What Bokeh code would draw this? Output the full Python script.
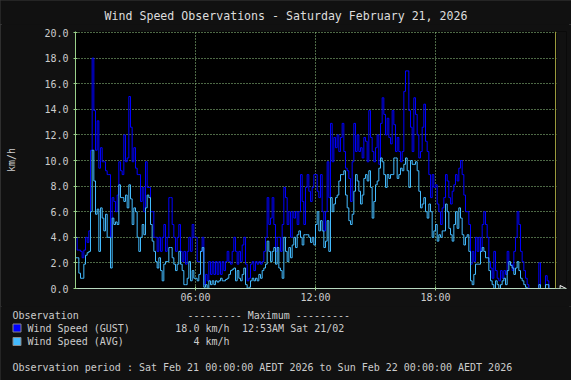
from bokeh.plotting import figure
from bokeh.layouts import column
from bokeh.models import (Range1d, FixedTicker, PrintfTickFormatter, BoxAnnotation,
                          Span, Arrow, NormalHead, GlobalInlineStyleSheet)
from bokeh.core.properties import value
from bokeh.embed import file_html
from bokeh.resources import INLINE

# ---------------- data (km/h, 5-minute samples from 00:00) ----------------
gust_kmh = [
    4.0, 3.0, 3.0, 2.9, 2.4, 3.0, 4.0, 3.6, 4.5, 10.8, 18.0, 13.9,
    10.8, 13.1, 9.4, 11.0, 9.9, 9.9, 9.2, 8.9, 8.9, 4.0, 7.1, 6.8,
    6.0, 7.3, 9.9, 9.2, 8.9, 12.0, 9.9, 10.2, 15.0, 12.6, 9.9, 11.0,
    9.4, 8.9, 8.9, 6.8, 7.9, 6.0, 9.9, 7.9, 7.9, 6.0, 6.0, 4.0,
    4.0, 2.9, 4.0, 2.9, 4.0, 5.0, 2.9, 4.0, 7.1, 7.1, 5.0, 4.0,
    2.9, 4.0, 5.0, 2.9, 2.1, 2.9, 1.9, 2.9, 4.0, 2.9, 5.0, 4.0,
    4.0, 2.1, 2.1, 2.9, 4.0, 0.3, 1.1, 0.6, 2.1, 1.1, 2.1, 1.1,
    2.1, 1.1, 2.1, 1.1, 2.1, 1.4, 2.1, 2.9, 2.1, 1.9, 2.9, 4.0,
    2.9, 1.9, 2.9, 2.1, 3.4, 4.0, 1.9, 0.6, 0.8, 1.9, 2.1, 1.4,
    2.1, 1.9, 2.1, 1.9, 2.1, 2.9, 4.0, 7.1, 5.0, 5.5, 7.1, 5.0,
    2.9, 4.0, 4.0, 2.9, 5.0, 7.9, 7.1, 5.0, 6.0, 4.0, 6.0, 5.5,
    6.0, 5.0, 6.0, 8.9, 6.8, 5.0, 7.9, 8.9, 7.6, 6.8, 7.9, 8.9,
    8.9, 7.6, 7.1, 8.9, 6.0, 4.5, 6.0, 9.9, 7.1, 12.9, 9.9, 11.8,
    11.0, 12.0, 10.7, 11.8, 12.9, 10.7, 9.4, 9.2, 8.6, 6.8, 9.9, 12.9,
    10.7, 12.0, 10.7, 11.0, 10.2, 11.8, 11.5, 9.9, 13.9, 11.8, 10.7, 9.9,
    11.0, 12.0, 9.7, 12.9, 14.9, 13.6, 12.0, 13.3, 11.8, 11.3, 13.9, 12.8,
    10.7, 11.8, 10.7, 9.9, 10.7, 15.4, 17.0, 17.0, 13.9, 12.6, 10.7, 14.9,
    13.6, 12.0, 10.2, 10.7, 12.6, 14.4, 11.5, 10.7, 8.9, 7.1, 8.9, 7.9,
    8.1, 6.6, 6.0, 5.0, 6.3, 7.1, 8.9, 8.4, 7.1, 6.6, 7.6, 8.1,
    8.9, 8.4, 9.4, 10.0, 8.9, 7.3, 6.0, 6.0, 5.0, 1.9, 2.9, 2.1,
    4.0, 2.9, 4.0, 2.9, 5.0, 6.0, 5.0, 4.0, 2.1, 1.6, 0.8, 2.9,
    1.4, 0.8, 0.6, 1.4, 0.8, 1.4, 1.1, 2.9, 1.9, 1.9, 1.4, 2.9,
    4.0, 6.0, 5.0, 2.9, 2.1, 1.4, 0.8, 0.3, 0.0, 0.0, 0.0, 0.0,
    0.0, 0.0, 2.0, 0.0, 0.0, 0.0, 1.0, 0.6, 0.0, 0.0,
]
avg_kmh = [
    2.4, 2.4, 1.2, 0.8, 0.8, 1.9, 2.6, 2.8, 2.9, 6.0, 10.8, 8.4,
    5.8, 6.2, 2.9, 6.3, 5.5, 4.5, 5.8, 4.0, 4.0, 1.6, 5.5, 5.0,
    5.2, 5.0, 8.1, 7.1, 7.1, 6.8, 7.3, 6.3, 8.1, 7.0, 5.0, 6.3,
    6.0, 4.0, 2.9, 4.0, 5.0, 4.2, 6.3, 7.3, 7.1, 5.0, 3.7, 2.9,
    2.1, 1.6, 2.4, 1.4, 0.6, 1.9, 2.1, 2.1, 3.2, 3.2, 2.4, 1.9,
    1.4, 1.9, 2.9, 1.9, 1.4, 0.3, 0.3, 0.8, 2.1, 0.6, 1.4, 0.8,
    0.8, 0.6, 1.1, 2.9, 3.2, 0.1, 0.3, 0.0, 0.6, 0.3, 0.6, 0.3,
    0.6, 0.5, 0.6, 0.8, 0.6, 0.6, 0.7, 0.8, 1.1, 1.4, 1.5, 1.6,
    0.6, 1.4, 0.8, 0.6, 1.1, 1.6, 0.3, 0.0, 0.1, 0.6, 0.8, 0.6,
    0.8, 0.6, 1.1, 0.8, 1.4, 1.6, 1.9, 3.7, 2.9, 2.1, 2.9, 3.2,
    1.9, 3.2, 1.6, 1.4, 0.8, 4.0, 2.9, 2.1, 3.2, 2.4, 3.4, 4.0,
    3.2, 4.2, 4.5, 4.0, 3.4, 4.2, 4.2, 4.2, 4.0, 3.6, 4.0, 3.4,
    5.0, 6.0, 4.5, 5.3, 4.5, 3.2, 3.7, 5.3, 2.9, 7.1, 6.0, 6.6,
    7.1, 7.3, 8.4, 8.9, 8.9, 9.2, 7.3, 6.3, 5.3, 5.0, 5.8, 7.6,
    8.9, 8.4, 7.6, 6.6, 7.3, 8.6, 8.9, 8.4, 9.2, 7.9, 5.5, 6.8,
    8.1, 8.4, 9.4, 10.2, 9.9, 8.9, 7.9, 8.9, 8.6, 8.9, 8.9, 10.2,
    10.2, 8.6, 8.9, 9.4, 9.2, 9.7, 10.2, 9.2, 7.9, 10.0, 9.7, 9.7,
    9.9, 9.2, 7.6, 6.3, 6.6, 7.1, 6.0, 5.5, 6.6, 6.0, 4.0, 4.5,
    5.0, 3.7, 4.2, 4.0, 4.5, 4.5, 6.6, 6.0, 4.7, 4.2, 3.7, 5.0,
    6.0, 4.7, 6.3, 5.5, 4.2, 3.4, 4.0, 4.2, 2.9, 0.6, 0.3, 1.1,
    1.9, 1.9, 1.9, 2.9, 3.2, 2.9, 2.4, 2.4, 1.4, 0.6, 0.3, 0.0,
    0.6, 0.3, 0.0, 0.3, 0.6, 0.8, 0.3, 1.4, 2.1, 1.8, 1.6, 1.1,
    1.6, 2.1, 1.4, 0.8, 0.6, 0.3, 0.1, 0.0, 0.0, 0.0, 0.0, 0.0,
    0.0, 0.0, 0.3, 0.0, 0.0, 0.0, 0.3, 0.3, 0.0, 0.0,
]
sample_minutes = 5
y_ticks = [0, 2, 4, 6, 8, 10, 12, 14, 16, 18, 20]
x_tick_hours = [6, 12, 18]
x_tick_labels = ["06:00", "12:00", "18:00"]
day_hours = 24

title_text = "Wind Speed Observations - Saturday February 21, 2026"
y_label = "km/h"
legend_header = ["Observation", "--------- Maximum ---------"]
series_names = ["Wind Speed (GUST)", "Wind Speed (AVG)"]
series_max = ["18.0 km/h", "4 km/h"]
gust_max_time = "12:53AM Sat 21/02"
period_text = "Observation period : Sat Feb 21 00:00:00 AEDT 2026 to Sun Feb 22 00:00:00 AEDT 2026"

GUST_COLOR = "#0000FF"
AVG_COLOR = "#44BBFF"
TEXT_COLOR = "#CCCCCC"
GRID_COLOR = "#9AD08A"
BG = "#111111"
FONT = "DejaVu Sans Mono"

hours = [i * sample_minutes / 60 for i in range(len(gust_kmh))]

W = 571
HEAD_H, MAIN_H, LEG_H = 24, 282, 74


def panel(h):
    f = figure(width=W, height=h, output_backend="svg", toolbar_location=None,
               x_range=Range1d(0, W), y_range=Range1d(h, 0),
               x_axis_type=None, y_axis_type=None, min_border=0, frame_align=False)
    f.title = None
    f.background_fill_color = BG
    f.border_fill_color = BG
    f.outline_line_color = None
    f.xgrid.visible = False
    f.ygrid.visible = False
    return f


# ---------------- header (title) ----------------
head = panel(HEAD_H)
head.text(x=[285.5], y=[15], text=[title_text], text_font=value(FONT),
          text_font_size=value("11.6px"), text_color="#DDDDDD",
          text_align="center", text_baseline="middle")

# ---------------- main chart ----------------
FL, FT, FW, FH = 75, 7, 491, 257      # frame in main-figure pixels
PX_PER_H, PX_PER_U = 20.0, 12.8

p = figure(width=W, height=MAIN_H, output_backend="svg", toolbar_location=None,
           x_range=Range1d(0, FW / PX_PER_H), y_range=Range1d(0, FH / PX_PER_U),
           min_border_left=FL, min_border_right=W - FL - FW,
           min_border_top=FT, min_border_bottom=MAIN_H - FT - FH, frame_align=False)
p.title = None
p.background_fill_color = "#000000"
p.border_fill_color = BG
p.outline_line_color = None

p.yaxis.ticker = FixedTicker(ticks=y_ticks)
p.yaxis.formatter = PrintfTickFormatter(format="%.1f")
p.xaxis.ticker = FixedTicker(ticks=x_tick_hours)
p.xaxis.major_label_overrides = {h: l for h, l in zip(x_tick_hours, x_tick_labels)}
for ax in (p.xaxis, p.yaxis):
    ax.major_label_text_font = FONT
    ax.major_label_text_font_size = "10px"
    ax.major_label_text_color = TEXT_COLOR
    ax.major_tick_in = 2
    ax.major_tick_out = 2
    ax.major_tick_line_color = GRID_COLOR
    ax.minor_tick_line_color = None
p.yaxis.axis_line_color = GRID_COLOR
p.xaxis.axis_line_color = "#B8D8C0"
p.yaxis.major_label_standoff = 5
p.xaxis.major_label_standoff = 1
p.yaxis.axis_label = y_label
p.yaxis.axis_label_text_font = FONT
p.yaxis.axis_label_text_font_size = "10px"
p.yaxis.axis_label_text_font_style = "normal"
p.yaxis.axis_label_text_color = TEXT_COLOR
p.yaxis.axis_label_standoff = 24

p.ygrid.ticker = FixedTicker(ticks=y_ticks)
p.xgrid.ticker = FixedTicker(ticks=x_tick_hours)
for g in (p.xgrid, p.ygrid):
    g.grid_line_color = GRID_COLOR
    g.grid_line_dash = "1 2"
    g.grid_line_width = 1

p.step(hours, gust_kmh, mode="after", line_color=GUST_COLOR, line_width=1)
p.step(hours, avg_kmh, mode="after", line_color=AVG_COLOR, line_width=1)

# area right of the day end is canvas colour, closed by an olive rule
p.add_layout(BoxAnnotation(left=day_hours + 0.05, fill_color=BG, fill_alpha=1,
                           line_color=None))
p.add_layout(Span(location=day_hours, dimension="height", line_color="#9A9A3C",
                  line_width=1))
p.add_layout(Arrow(x_start=day_hours + 0.05, y_start=0, x_end=FW / PX_PER_H - 0.02, y_end=0,
                   line_color="#B8D8C0", line_width=1,
                   end=NormalHead(size=6, fill_color=BG, line_color="#FFFFFF", line_width=1)))

# ---------------- legend / footer ----------------
leg = panel(LEG_H)
txt_kw = dict(text_font=value(FONT), text_font_size=value("10px"),
              text_color=TEXT_COLOR, text_baseline="middle")
leg.text(x=[12, 187, 27, 27, 241.5, 12],
         y=[9, 9, 21.5, 34.5, 21.5, 60.5],
         text=[legend_header[0], legend_header[1], series_names[0], series_names[1],
               gust_max_time, period_text],
         text_align="left", **txt_kw)
leg.text(x=[229, 229], y=[21.5, 34.5], text=series_max, text_align="right", **txt_kw)
leg.rect(x=[16.5, 16.5], y=[21.5, 35], width=8, height=8,
         fill_color=[GUST_COLOR, AVG_COLOR], line_color="#888888", line_width=1)

layout = column(head, p, leg, spacing=0)
layout.stylesheets = [GlobalInlineStyleSheet(css="html, body { background: #111111; }")]
layout.styles = {"outline": "2px solid #3A3A3A", "outline-offset": "-2px"}
open("out.html", "w").write(file_html(layout, INLINE))
